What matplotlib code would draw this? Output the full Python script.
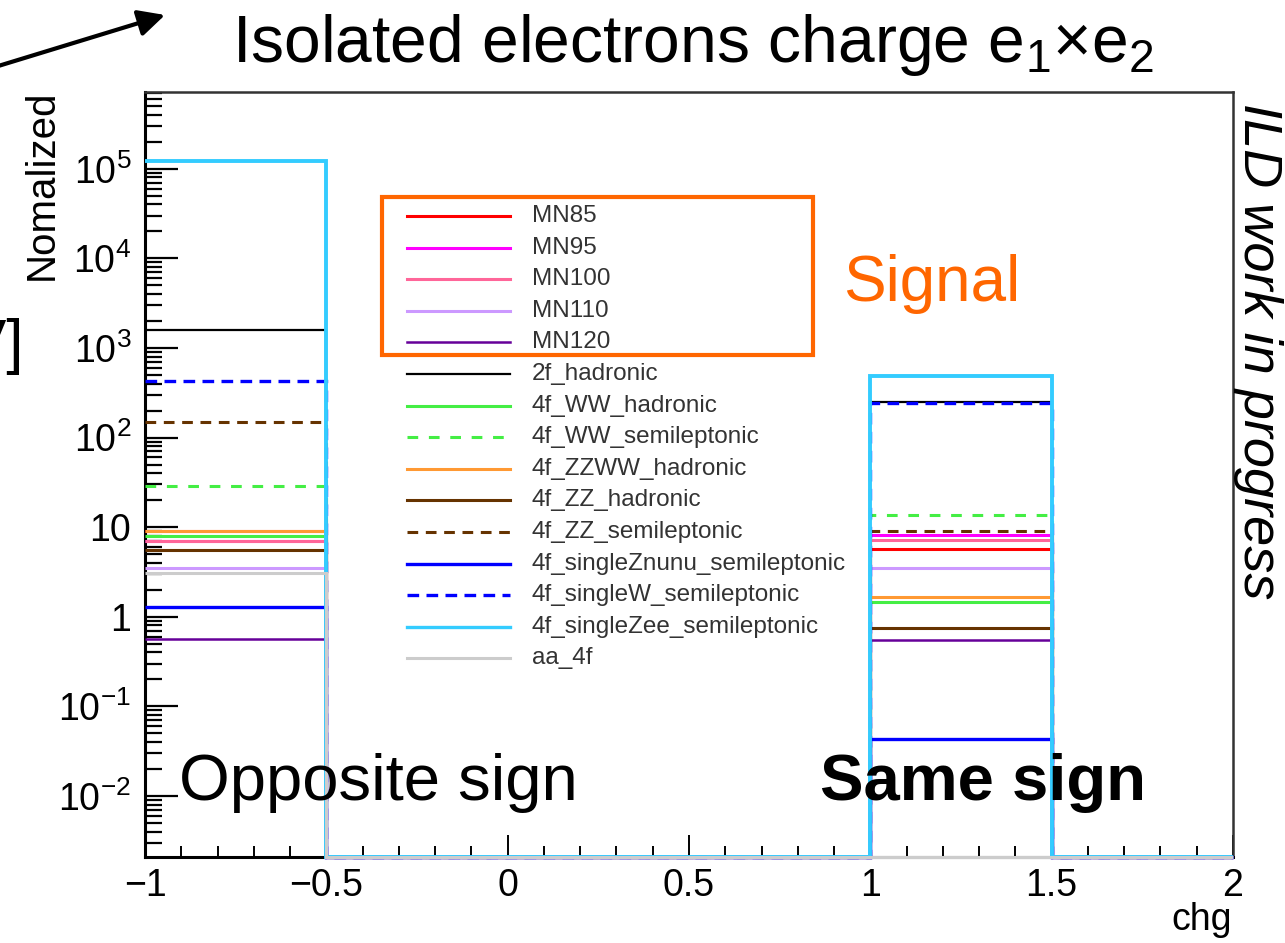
import numpy as np
import matplotlib
matplotlib.use('Agg')
import matplotlib.pyplot as plt
from matplotlib.lines import Line2D
from matplotlib.patches import Rectangle
from matplotlib.ticker import FixedLocator, MultipleLocator, FuncFormatter, NullFormatter

plt.rcParams['font.family'] = ['Liberation Sans', 'DejaVu Sans']
plt.rcParams['mathtext.fontset'] = 'custom'
plt.rcParams['mathtext.rm'] = 'Liberation Sans'
plt.rcParams['mathtext.it'] = 'Liberation Sans:italic'
plt.rcParams['mathtext.bf'] = 'Liberation Sans:bold'

# charge product binning: 6 bins of width 0.5 between -1 and 2
edges = np.arange(-1.0, 2.01, 0.5)

samples = ['MN85', 'MN95', 'MN100', 'MN110', 'MN120',
           '2f_hadronic', '4f_WW_hadronic', '4f_WW_semileptonic',
           '4f_ZZWW_hadronic', '4f_ZZ_hadronic', '4f_ZZ_semileptonic',
           '4f_singleZnunu_semileptonic', '4f_singleW_semileptonic',
           '4f_singleZee_semileptonic', 'aa_4f']

# normalized yields in the opposite-sign bin [-1,-0.5] and same-sign bin [1,1.5]
opposite_sign = [9.0, 7.0, 7.0, 3.5, 0.57,
                 1600, 7.9, 29,
                 9.0, 5.5, 150,
                 1.3, 430,
                 1.23e5, 3.1]
same_sign = [5.7, 8.2, 7.2, 3.5, 0.55,
             250, 1.47, 13.6,
             1.67, 0.75, 9.0,
             0.043, 245,
             490, 0.0]

colors = ['#ff0000', '#ff00ff', '#ff6699', '#cc99ff', '#660099',
          '#000000', '#44ee44', '#44ee44',
          '#ff9933', '#663300', '#663300',
          '#0000ff', '#0000ff',
          '#33ccff', '#cccccc']
styles = ['-', '-', '-', '-', '-',
          '-', '-', (0, (3.5, 3.5)),
          '-', '-', (0, (3.5, 2.5)),
          '-', (0, (3.5, 2.2)),
          '-', '-']
widths = [2.2, 2.2, 2.2, 2.2, 1.8,
          1.6, 2.2, 2.2,
          2.2, 2.2, 2.2,
          2.4, 2.4,
          2.8, 2.2]

decades = [1e-2, 1e-1, 1, 10, 1e2, 1e3, 1e4, 1e5]
ymin, ymax = 2.08e-3, 7.2e5

W, H = 1285, 943
fig = plt.figure(figsize=(W / 100, H / 100), dpi=100)
ax = fig.add_axes([145 / W, 1 - 857 / H, (1233 - 145) / W, (857 - 92) / H])


def fx(x):
    return x / W


def fy(y):
    return 1 - y / H


for name, opp, same, c, ls, lw in zip(samples, opposite_sign, same_sign, colors, styles, widths):
    counts = np.zeros(len(edges) - 1)
    counts[0] = opp
    counts[4] = same
    # empty bins sit on the bottom of the log axis
    counts = np.where(counts > 0, counts, ymin)
    ax.stairs(counts, edges, baseline=None, color=c, linestyle=ls, linewidth=lw,
              zorder=3, clip_on=False)

ax.set_yscale('log')
ax.set_xlim(-1, 2)
ax.set_ylim(ymin, ymax)


def root_log_label(v, pos):
    e = int(round(np.log10(v)))
    if e == 0:
        return '1'
    if e == 1:
        return '10'
    return r'$10^{%d}$' % e


minor = [m * d for d in [1e-3] + decades for m in range(2, 10)]
minor = [v for v in minor if ymin <= v <= ymax]
ax.yaxis.set_major_locator(FixedLocator(decades))
ax.yaxis.set_minor_locator(FixedLocator(minor))
ax.yaxis.set_major_formatter(FuncFormatter(root_log_label))
ax.yaxis.set_minor_formatter(NullFormatter())
ax.xaxis.set_major_locator(MultipleLocator(0.5))
ax.xaxis.set_minor_locator(MultipleLocator(0.1))
ax.xaxis.set_major_formatter(FuncFormatter(lambda v, p: ('%g' % v).replace('-', '\u2212')))

ax.tick_params(axis='y', which='major', direction='in', length=24, width=1.6,
               labelsize=27, pad=10)
ax.tick_params(axis='y', which='minor', direction='in', length=12, width=1.6)
ax.tick_params(axis='x', which='major', direction='in', length=16, width=1.4,
               labelsize=27, pad=8)
ax.tick_params(axis='x', which='minor', direction='in', length=8, width=1.4)

for side in ['left', 'bottom']:
    ax.spines[side].set_linewidth(2.2)
for side in ['top', 'right']:
    ax.spines[side].set_linewidth(1.8)
    ax.spines[side].set_color('#333333')

# legend
for i, (name, c, ls, lw) in enumerate(zip(samples, colors, styles, widths)):
    y = 216 + 31.6 * i
    fig.add_artist(Line2D([fx(407), fx(510)], [fy(y), fy(y)], color=c, linestyle=ls,
                          linewidth=min(lw, 2.4), transform=fig.transFigure))
    fig.text(fx(532), fy(y), name, fontsize=17.5, color='#333333', va='center', ha='left')

# signal box
fig.add_artist(Rectangle((fx(382), fy(355)), fx(813) - fx(382), fy(197) - fy(355),
                         transform=fig.transFigure, fill=False, edgecolor='#ff6600',
                         linewidth=3))
fig.text(fx(843), fy(301), 'Signal', fontsize=46, color='#ff6600', va='baseline')

# texts
fig.text(fx(232), fy(62), 'Isolated electrons charge e$_1$\u00d7e$_2$', fontsize=47.5,
         va='baseline', ha='left')
fig.text(fx(42), fy(90), 'Nomalized', fontsize=29, rotation=90, va='top', ha='center')
fig.text(fx(1232), fy(930), 'chg', fontsize=27, va='baseline', ha='right')
fig.text(fx(1233), fy(103), 'ILD work in progress', fontsize=39, style='italic',
         rotation=270, va='top', ha='left')
fig.text(fx(24), fy(362), '[GeV]', fontsize=44, va='baseline', ha='right')
fig.text(fx(179), fy(800), 'Opposite sign', fontsize=47, va='baseline', ha='left')
fig.text(fx(820), fy(800), 'Same sign', fontsize=47, fontweight='bold',
         va='baseline', ha='left')

ax.annotate('', xy=(165, H - 15), xycoords='figure pixels',
            xytext=(-5, H - 67), textcoords='figure pixels',
            arrowprops=dict(arrowstyle='-|>', color='black', lw=3,
                            mutation_scale=40, shrinkA=0, shrinkB=0))

fig.savefig('out.png', dpi=100)
